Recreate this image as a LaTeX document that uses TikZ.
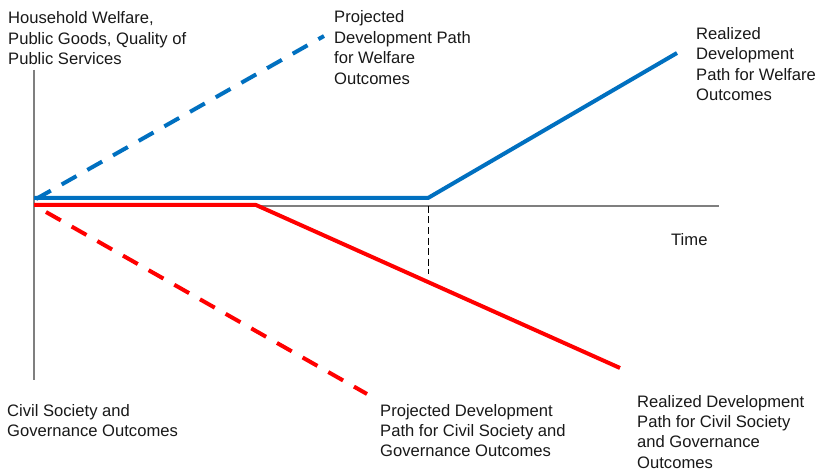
\documentclass[tikz,border=0pt]{standalone}
\usepackage{fontspec}
\setmainfont{Liberation Sans}
\definecolor{pathblue}{HTML}{0070C0}
\definecolor{pathred}{HTML}{FF0000}
\definecolor{axisgray}{HTML}{7F7F7F}
\begin{document}
\begin{tikzpicture}[x=1pt,y=-1pt,
  lbl/.style={anchor=base west,inner sep=0pt,font=\fontsize{16.6}{20.4}\selectfont,text=black!90},
  axisline/.style={draw=axisgray,line width=1.5pt},
  bluepath/.style={draw=pathblue,line width=4pt},
  redpath/.style={draw=pathred,line width=4pt},
  projdash/.style={dash pattern=on 17pt off 12.5pt},
  markline/.style={draw=black,line width=0.9pt,dash pattern=on 7pt off 3.5pt}]
\path[use as bounding box] (0,0) rectangle (818,470);
\fill[white] (0,0) rectangle (818,470);
% axes
\coordinate (ytop) at (34,70);
\coordinate (ybot) at (34,380);
\coordinate (xleft) at (34,206);
\coordinate (xright) at (719,206);
\draw[axisline] (ytop) -- (ybot);
\draw[axisline] (xleft) -- (xright);
% marker
\coordinate (mtop) at (428,206);
\coordinate (mbot) at (428,274);
\draw[markline] (mtop) -- (mbot);
% projected paths
\coordinate (pbs) at (36,199);
\coordinate (pbe) at (324,36);
\draw[bluepath,projdash] (pbs) -- (pbe);
\coordinate (prs) at (46,212);
\coordinate (pre) at (367,394);
\draw[redpath,projdash] (prs) -- (pre);
% realized paths
\coordinate (rbs) at (34,198);
\coordinate (rbk) at (428,198);
\coordinate (rbe) at (677,53);
\draw[bluepath,line join=round] (rbs) -- (rbk) -- (rbe);
\coordinate (rrs) at (34,205);
\coordinate (rrk) at (256,205);
\coordinate (rre) at (620,368);
\draw[redpath,line join=round] (rrs) -- (rrk) -- (rre);
% labels
\node[lbl] (yl) at (8,24) {\begin{tabular}[t]{@{}l@{}}Household Welfare,\\Public Goods, Quality of\\Public Services\end{tabular}};
\node[lbl] (pbl) at (334,23) {\begin{tabular}[t]{@{}l@{}}Projected\\Development Path\\for Welfare\\Outcomes\end{tabular}};
\node[lbl] (rbl) at (696,39.5) {\begin{tabular}[t]{@{}l@{}}Realized\\Development\\Path for Welfare\\Outcomes\end{tabular}};
\node[lbl] (tl) at (671,245) {Time};
\node[lbl] (cl) at (7,416) {\begin{tabular}[t]{@{}l@{}}Civil Society and\\Governance Outcomes\end{tabular}};
\node[lbl] (prl) at (380,416) {\begin{tabular}[t]{@{}l@{}}Projected Development\\Path for Civil Society and\\Governance Outcomes\end{tabular}};
\node[lbl] (rrl) at (637,407) {\begin{tabular}[t]{@{}l@{}}Realized Development\\Path for Civil Society\\and Governance\\Outcomes\end{tabular}};
\end{tikzpicture}
\end{document}
